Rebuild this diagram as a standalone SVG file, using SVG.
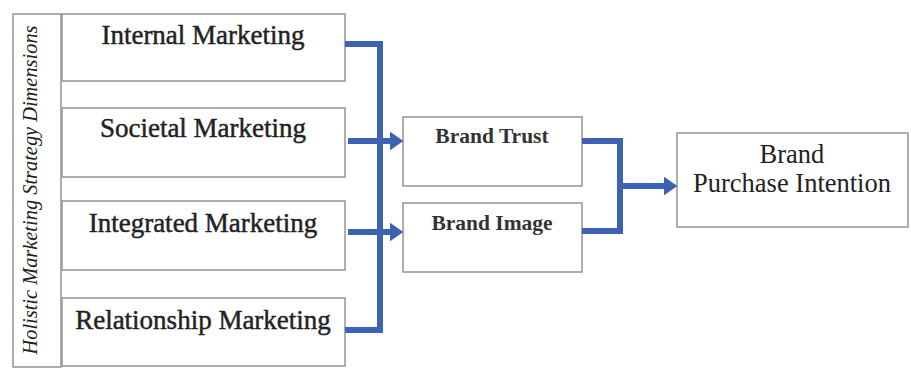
<svg xmlns="http://www.w3.org/2000/svg" width="911" height="368" viewBox="0 0 911 368">
<style>
.box{fill:#fff;stroke:#9a9a9a;stroke-width:1.6}
.t{font-family:"Liberation Serif","Times New Roman",serif;fill:#222;text-anchor:middle}
.l{font-size:27px;stroke:#222;stroke-width:0.45}
.m{font-size:21.5px;font-weight:bold;fill:#333}
.r{font-size:26.5px}
.c{fill:none;stroke:#3d62b3;stroke-width:6}
</style>
<defs>
<marker id="ah" viewBox="0 0 10 10" refX="0" refY="5" markerWidth="2.2" markerHeight="3.1" orient="auto" markerUnits="strokeWidth" preserveAspectRatio="none">
<path d="M0,0 L10,5 L0,10 z" fill="#3d62b3"/>
</marker>
</defs>
<rect width="911" height="368" fill="#fff"/>
<g id="dimensions">
<rect class="box" x="13" y="14" width="48" height="353"/>
<text class="t" transform="translate(37,190) rotate(-90)" style="font-size:20.4px;font-style:italic">Holistic Marketing Strategy Dimensions</text>
</g>
<g id="internal">
<rect class="box" x="62" y="14" width="283" height="67"/>
<text class="t l" x="203" y="44">Internal Marketing</text>
</g>
<g id="societal">
<rect class="box" x="62" y="108" width="283" height="69"/>
<text class="t l" x="203" y="137">Societal Marketing</text>
</g>
<g id="integrated">
<rect class="box" x="62" y="201" width="283" height="69"/>
<text class="t l" x="203" y="232">Integrated Marketing</text>
</g>
<g id="relationship">
<rect class="box" x="62" y="298" width="283" height="68"/>
<text class="t l" x="203" y="329">Relationship Marketing</text>
</g>
<g id="trust">
<rect class="box" x="403" y="117" width="179" height="69"/>
<text class="t m" x="492" y="143">Brand Trust</text>
</g>
<g id="image">
<rect class="box" x="403" y="203" width="179" height="69"/>
<text class="t m" x="492" y="230">Brand Image</text>
</g>
<g id="intention">
<rect class="box" x="677" y="133" width="231" height="94"/>
<text class="t r" x="792" y="163">Brand</text>
<text class="t r" x="792" y="192">Purchase Intention</text>
</g>
<g id="connectors">
<polyline class="c" points="345,44 380,44 380,330 345,330"/>
<line class="c" x1="348" y1="141" x2="390" y2="141" marker-end="url(#ah)"/>
<line class="c" x1="348" y1="232" x2="390" y2="232" marker-end="url(#ah)"/>
<polyline class="c" points="582,141 620,141 620,231 582,231"/>
<line class="c" x1="620" y1="186" x2="664" y2="186" marker-end="url(#ah)"/>
</g>
</svg>
